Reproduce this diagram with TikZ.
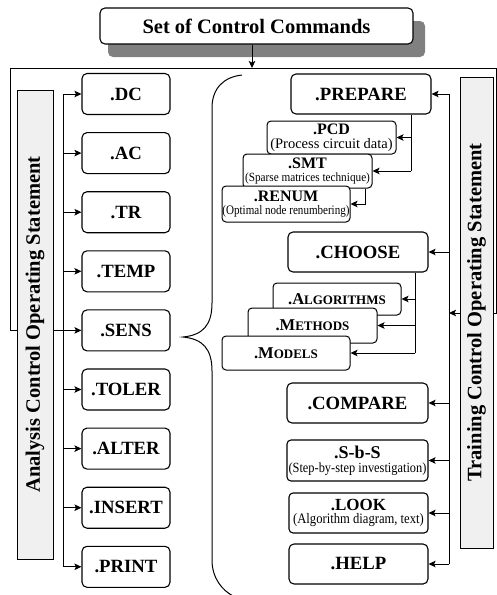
\documentclass[tikz,border=0pt]{standalone}
\usepackage{fontspec}
\setmainfont{Liberation Serif}
\usepackage{graphicx}
\usetikzlibrary{arrows.meta}
\newcommand{\myfs}[1]{\fontsize{#1}{#1}\selectfont}
\definecolor{shadowgray}{HTML}{808080}
\begin{document}
\begin{tikzpicture}[x=1pt,y=-1pt,
  cbox/.style={draw, line width=1.1pt, rounded corners=5pt, fill=white, inner sep=0pt, font=\bfseries\myfs{18.7}},
  sbox/.style={draw, line width=1pt, rounded corners=4pt, fill=white, inner sep=0pt, align=center},
  side/.style={draw, line width=1pt, fill=gray!12, inner sep=0pt, rotate=90, font=\bfseries\myfs{20.5}},
  conn/.style={line width=1pt},
  arr/.style={line width=1pt, -{Stealth[length=7pt,width=6.5pt,inset=1.5pt]}},
]
\useasboundingbox (0,0) rectangle (497,595);

% title
\fill[shadowgray, rounded corners=5pt] (108,21) rectangle (425,57);
\node[cbox, font=\bfseries\myfs{20.5}, minimum width=313pt, minimum height=36pt] (title) at (256.5,26) {Set of Control Commands};
\coordinate (tj) at (252,68);
\coordinate (topl) at (10,68);
\coordinate (topr) at (496,68);
\draw[arr] (title.south -| tj) -- (tj);
\draw[conn] (topl) -- (topr);

% left column
\foreach \n/\t [count=\i from 0] in {dc/.DC, ac/.AC, trn/.TR, temp/.TEMP, sens/.SENS, toler/.TOLER, alter/.ALTER, insert/.INSERT, print/.PRINT}
  \node[cbox, minimum width=88pt, minimum height=41pt] (\n) at (126,{94+59.1*\i}) {\t};
\coordinate (lt) at (63,0);
\draw[conn] (dc.west -| lt) -- (print.west -| lt);
\foreach \n in {dc,ac,trn,temp,toler,alter,insert,print}
  \draw[arr] (\n.west -| lt) -- (\n.west);
\draw[arr] (topl) |- (sens.west);
\node[side, minimum width=469pt, minimum height=36pt] (lgray) at (35,324.5) {Analysis Control Operating Statement};

% brace
\draw[line width=1pt] (242,75) .. controls (224,77) and (212,88) .. (212,108) -- (212,303)
  .. controls (212,325) and (203,335) .. (183,337)
  .. controls (203,339) and (212,349) .. (212,371) -- (212,560)
  .. controls (212,578) and (222,590) .. (233,596);

% right column
\node[cbox, minimum width=140pt, minimum height=40pt] (prepare) at (361,94) {.PREPARE};
\node[sbox, font=\myfs{14}, minimum width=129pt, minimum height=33pt] (pcd) at (331.5,137.5)
  {{\bfseries\myfs{16}.PCD}\\{\myfs{14.5}(Process circuit data)}};
\node[sbox, font=\myfs{13}, minimum width=129pt, minimum height=34pt] (smt) at (307.5,171)
  {{\bfseries\myfs{16}.SMT}\\\scalebox{0.9}[1]{\myfs{12.5}(Sparse matrices technique)}};
\node[sbox, font=\myfs{13}, minimum width=128pt, minimum height=36pt] (renum) at (286,204)
  {{\bfseries\myfs{16}.RENUM}\\\scalebox{0.85}[1]{\myfs{13}(Optimal node renumbering)}};
\coordinate (pv) at (411,0);
\draw[conn] (prepare.south -| pv) -- (smt.east -| pv);
\draw[arr] (pcd.east -| pv) -- (pcd.east);
\draw[arr] (smt.east -| pv) -- (smt.east);
\coordinate (sv) at (365,0);
\draw[arr] (smt.south -| sv) |- (renum.east);

\node[cbox, minimum width=140pt, minimum height=40pt] (choose) at (358,252) {.CHOOSE};
\node[sbox, font=\bfseries\myfs{16.5}, minimum width=128pt, minimum height=32pt] (algo) at (337,299) {.A{\myfs{13}LGORITHMS}};
\node[sbox, font=\bfseries\myfs{16.5}, minimum width=129pt, minimum height=35pt] (methods) at (312.5,325.5) {.M{\myfs{13}ETHODS}};
\node[sbox, font=\bfseries\myfs{16.5}, minimum width=128pt, minimum height=34pt] (models) at (286,353) {.M{\myfs{13}ODELS}};
\coordinate (cv) at (415,0);
\draw[conn] (choose.south -| cv) -- (models.east -| cv);
\foreach \n in {algo,methods,models}
  \draw[arr] (\n.east -| cv) -- (\n.east);

\node[cbox, minimum width=141pt, minimum height=40pt] (compare) at (357.5,403) {.COMPARE};
\node[sbox, line width=1.1pt, font=\myfs{14}, minimum width=141pt, minimum height=41pt] (sbs) at (357.5,460.5)
  {{\bfseries\myfs{18}.S-b-S}\\\scalebox{0.885}[1]{\myfs{14}(Step-by-step investigation)}};
\node[sbox, line width=1.1pt, font=\myfs{13.5}, minimum width=139pt, minimum height=40pt] (look) at (358.5,513)
  {{\bfseries\myfs{17}.LOOK}\\\scalebox{0.87}[1]{\myfs{14.5}(Algorithm diagram, text)}};
\node[cbox, minimum width=139pt, minimum height=40pt] (help) at (358.5,564) {.HELP};

\coordinate (rt) at (449,0);
\coordinate (rj) at (449,313);
\draw[conn] (prepare.east -| rt) -- (help.east -| rt);
\foreach \n in {prepare,choose,compare,sbs,look,help}
  \draw[arr] (\n.east -| rt) -- (\n.east);
\draw[arr] (topr) |- (rj);
\node[side, minimum width=471pt, minimum height=33pt] (rgray) at (476.5,312.5) {Training Control Operating Statement};
\end{tikzpicture}
\end{document}
